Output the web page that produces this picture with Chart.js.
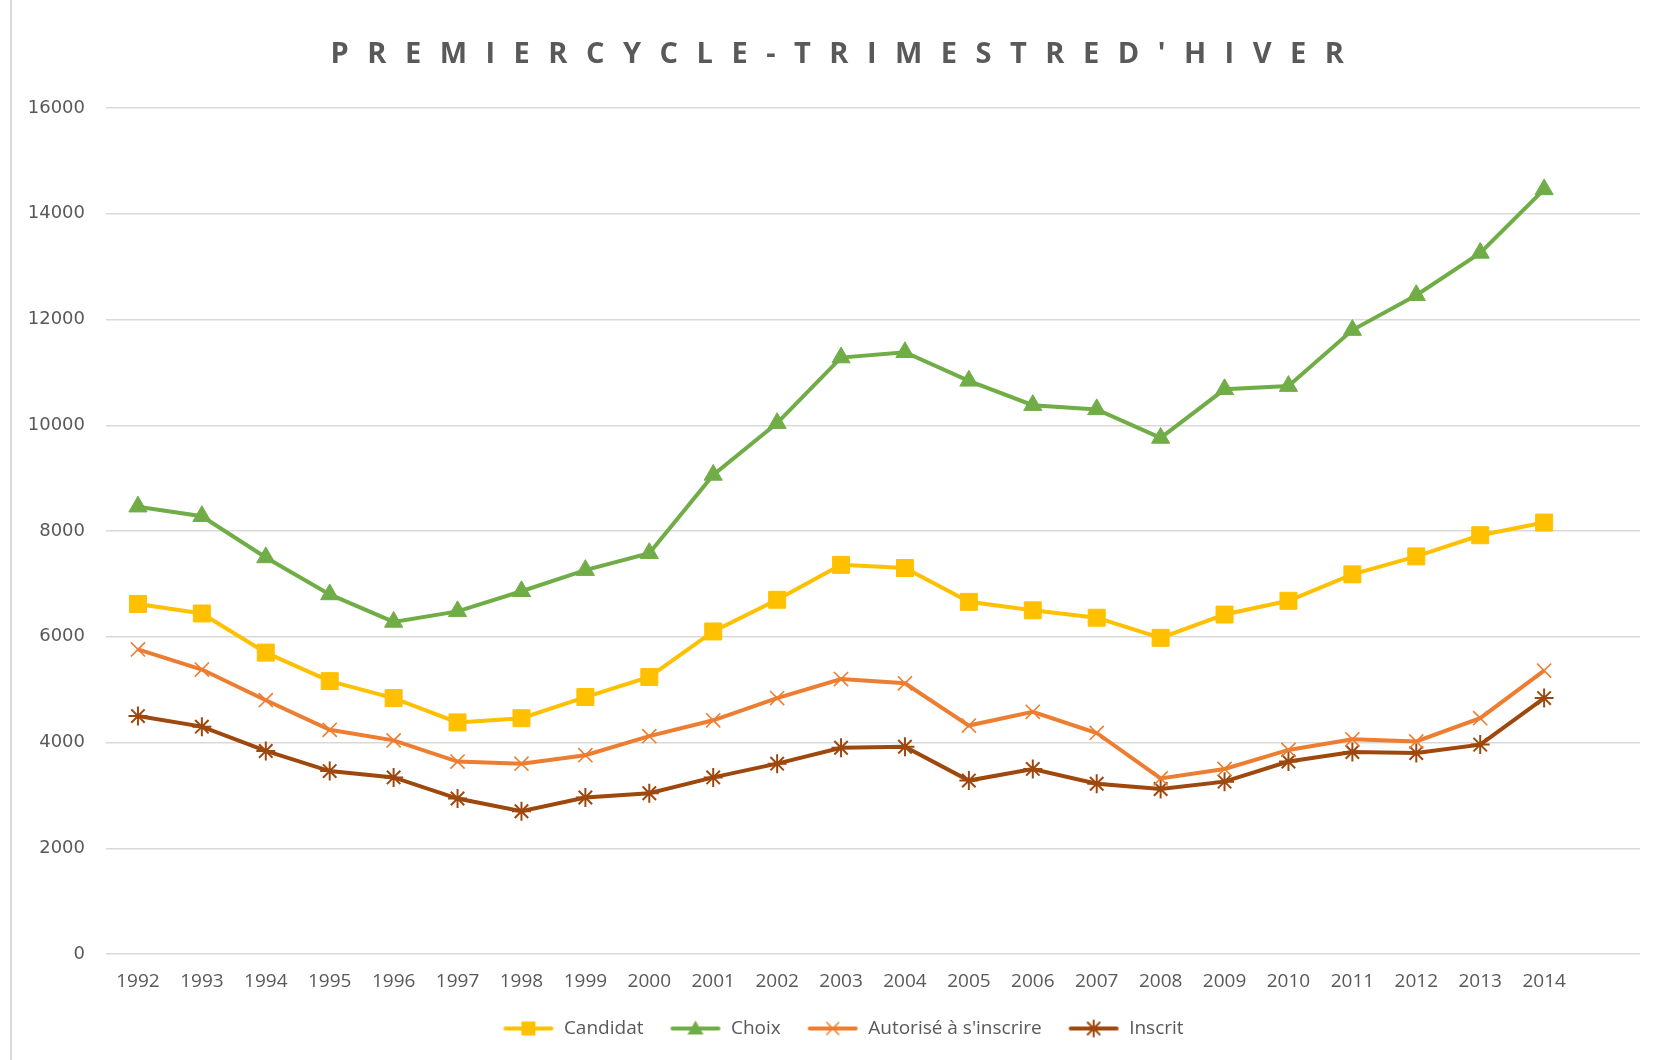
<!DOCTYPE html>
<html>
<head>
<meta charset="utf-8">
<script src="https://cdn.jsdelivr.net/npm/chart.js@4.4.0/dist/chart.umd.min.js"></script>
<style>
  html, body { margin: 0; padding: 0; background: #fff; }
  #wrap { position: relative; width: 1657px; height: 1060px; }
  #frame { position: absolute; left: 10px; top: 0; bottom: 0; border-left: 2px solid #d9d9d9; }
  #title {
    position: absolute; top: 32px; left: 18px; width: 1657px; text-align: center;
    font: bold 29px 'Open Sans', sans-serif; color: #595959; letter-spacing: 18.5px;
  }
</style>
</head>
<body>
<div id="wrap">
  <div id="frame"></div>
  <div id="title">PREMIERCYCLE-TRIMESTRED'HIVER</div>
  <canvas id="canvas" width="1657" height="1060"></canvas>
</div>
<script>
const years = ['1992', '1993', '1994', '1995', '1996', '1997', '1998', '1999', '2000', '2001', '2002', '2003',
  '2004', '2005', '2006', '2007', '2008', '2009', '2010', '2011', '2012', '2013', '2014'];

const candidat = [6620, 6440, 5700, 5160, 4840, 4380, 4460, 4860, 5240, 6100, 6700, 7360,
  7300, 6660, 6500, 6360, 5980, 6420, 6680, 7180, 7520, 7920, 8160];
const choix = [8460, 8280, 7500, 6800, 6280, 6480, 6860, 7260, 7580, 9060, 10040, 11280,
  11380, 10840, 10380, 10300, 9760, 10680, 10740, 11800, 12460, 13260, 14460];
const autorise = [5760, 5380, 4800, 4240, 4040, 3640, 3600, 3760, 4120, 4420, 4840, 5200,
  5120, 4320, 4580, 4180, 3320, 3500, 3860, 4060, 4020, 4460, 5360];
const inscrit = [4500, 4300, 3840, 3460, 3340, 2940, 2700, 2960, 3040, 3340, 3600, 3900,
  3920, 3280, 3500, 3220, 3120, 3260, 3640, 3820, 3800, 3960, 4840];

const yTicks = [0, 2000, 4000, 6000, 8000, 10000, 12000, 14000, 16000];

// Excel leaves one empty slot on the right of the category axis
const labels = years.concat(['']);

const textColor = '#595959';
const gridColor = '#d9d9d9';

// legend swatch: a short line with the marker in the middle
function legendIcon(color, style) {
  const c = document.createElement('canvas');
  c.width = 52;
  c.height = 22;
  const g = c.getContext('2d');
  const cx = 26, cy = 11;
  g.strokeStyle = color;
  g.fillStyle = color;
  g.lineWidth = 4;
  g.lineCap = 'round';
  g.beginPath();
  g.moveTo(3, cy);
  g.lineTo(49, cy);
  g.stroke();
  g.lineWidth = 1.5;
  g.beginPath();
  if (style === 'rect') {
    g.rect(cx - 7, cy - 7, 14, 14);
    g.fill();
  } else if (style === 'triangle') {
    g.moveTo(cx, cy - 8);
    g.lineTo(cx + 8, cy + 6);
    g.lineTo(cx - 8, cy + 6);
    g.closePath();
    g.fill();
  } else if (style === 'crossRot') {
    g.moveTo(cx - 6, cy - 6); g.lineTo(cx + 6, cy + 6);
    g.moveTo(cx + 6, cy - 6); g.lineTo(cx - 6, cy + 6);
    g.stroke();
  } else {
    g.lineWidth = 2;
    g.moveTo(cx - 6, cy - 6); g.lineTo(cx + 6, cy + 6);
    g.moveTo(cx + 6, cy - 6); g.lineTo(cx - 6, cy + 6);
    g.moveTo(cx, cy - 8); g.lineTo(cx, cy + 8);
    g.stroke();
  }
  return c;
}

const series = [
  { label: 'Candidat', data: candidat, color: '#FFC000', style: 'rect', radius: 12, bw: 1 },
  { label: 'Choix', data: choix, color: '#70AD47', style: 'triangle', radius: 10.5, bw: 1 },
  { label: "Autorisé à s'inscrire", data: autorise, color: '#ED7D31', style: 'crossRot', radius: 10, bw: 1.6 },
  { label: 'Inscrit', data: inscrit, color: '#9E480E', style: 'star', radius: 9.5, bw: 2 }
];

const icons = series.map(s => legendIcon(s.color, s.style));

const datasets = series.map(s => ({
  label: s.label,
  data: s.data,
  borderColor: s.color,
  backgroundColor: s.color,
  borderWidth: 4,
  tension: 0,
  pointStyle: s.style,
  pointRadius: s.radius,
  pointHoverRadius: s.radius,
  pointBorderWidth: s.bw,
  pointBorderColor: s.color,
  pointBackgroundColor: s.color
}));

// the Excel legend sits a little right of the canvas centre
const legendShift = {
  id: 'legendShift',
  afterUpdate: function(chart) {
    const legend = chart.legend;
    if (!legend) return;
    legend.left += 23;
    legend.right += 23;
    legend.adjustHitBoxes();
  }
};

const config = {
  type: 'line',
  data: {
    labels: labels,
    datasets: datasets
  },
  plugins: [legendShift],
  options: {
    responsive: false,
    animation: false,
    layout: {
      padding: { top: 108, right: 17, bottom: 12, left: 0 }
    },
    plugins: {
      title: { display: false },
      tooltip: { enabled: false },
      legend: {
        position: 'bottom',
        labels: {
          usePointStyle: true,
          pointStyleWidth: 52,
          padding: 26,
          color: textColor,
          font: { family: "'Open Sans', sans-serif", size: 19 },
          generateLabels: function(chart) {
            const items = Chart.defaults.plugins.legend.labels.generateLabels(chart);
            items.forEach(function(item, i) {
              item.pointStyle = icons[i];
            });
            return items;
          }
        }
      }
    },
    scales: {
      x: {
        offset: true,
        grid: { display: false, drawTicks: false },
        border: { display: false },
        afterFit: function(scale) { scale.height = 39; },
        ticks: {
          padding: 16,
          maxRotation: 0,
          autoSkip: false,
          color: textColor,
          font: { family: "'Open Sans', sans-serif", size: 19 }
        }
      },
      y: {
        min: yTicks[0],
        max: yTicks[yTicks.length - 1],
        afterFit: function(scale) { scale.width = 106; },
        afterBuildTicks: function(scale) {
          scale.ticks = yTicks.map(v => ({ value: v }));
        },
        grid: { color: gridColor, lineWidth: 1.5, drawTicks: false },
        border: { display: false },
        ticks: {
          padding: 21,
          color: textColor,
          font: { family: "'DejaVu Sans', sans-serif", size: 18 },
          callback: function(val) {
            return String(val);
          }
        }
      }
    }
  }
};

new Chart(document.getElementById('canvas'), config);
</script>
</body>
</html>
